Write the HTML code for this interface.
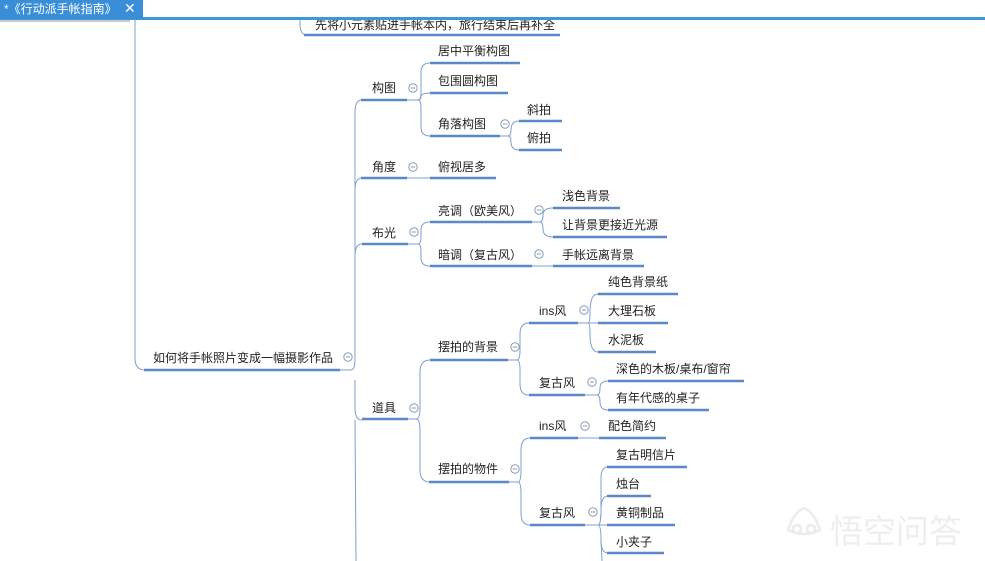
<!DOCTYPE html>
<html><head><meta charset="utf-8"><style>
html,body{margin:0;padding:0;background:#fff;width:985px;height:561px;overflow:hidden}
svg{display:block}
text{font-family:"Liberation Sans","Noto Sans CJK SC",sans-serif;font-size:12px;fill:#222}
.u{stroke:#5b88c6;stroke-width:2.5;fill:none}
.c{stroke:#7d9fd0;stroke-width:1;fill:none}
.ic circle{fill:#fff;stroke:#8a9bb5;stroke-width:1}
</style></head><body>
<svg width="985" height="561" viewBox="0 0 985 561" xmlns="http://www.w3.org/2000/svg">
<defs>
<g id="ic" class="ic"><circle cx="0" cy="0" r="4.2"/><line x1="-2.2" y1="0" x2="2.2" y2="0" stroke="#8a9bb5" stroke-width="1"/></g>
</defs>
<text x="315" y="29">先将小元素贴进手帐本内，旅行结束后再补全</text>
<path class="c" d="M300 18 L300 26 Q301 35 307 35"/>
<line class="u" x1="304" y1="35" x2="560" y2="35"/>
<path class="c" d="M135 18 L135 358 Q135 370 145 370"/>
<text x="153" y="362">如何将手帐照片变成一幅摄影作品</text>
<line class="u" x1="144" y1="370" x2="340" y2="370"/>
<use href="#ic" x="348" y="357"/>
<path class="c" d="M340 370 L350 370 C355 370 355 365 355 355 L355 112 Q355 100 362 100"/>
<path class="c" d="M355 190 Q355 178 362 178"/>
<path class="c" d="M355 256 Q355 244 362 244"/>
<path class="c" d="M355 380 L355 408 Q355 420 362 420"/>
<path class="c" d="M355 420 L356 561"/>
<text x="372" y="92">构图</text><line class="u" x1="361" y1="100" x2="407" y2="100"/><use href="#ic" x="413" y="88"/>
<path class="c" d="M407 100 L418 100 C421 100 421 96 421 90 L421 72 Q421 63 430 63"/>
<path class="c" d="M418 100 Q421 100 421 96 L421 97 Q421 93 430 93"/>
<path class="c" d="M418 100 Q421 100 421 108 L421 127 Q421 136 430 136"/>
<text x="438" y="55">居中平衡构图</text><line class="u" x1="430" y1="63" x2="520" y2="63"/>
<text x="438" y="85">包围圆构图</text><line class="u" x1="430" y1="93" x2="508" y2="93"/>
<text x="438" y="128">角落构图</text><line class="u" x1="430" y1="136" x2="500" y2="136"/><use href="#ic" x="505" y="124"/>
<path class="c" d="M500 136 L508 136 Q511 136 511 130 Q511 121 519 121"/>
<path class="c" d="M508 136 Q511 136 511 142 Q511 150 519 150"/>
<text x="527" y="114">斜拍</text><line class="u" x1="519" y1="121" x2="562" y2="121"/>
<text x="527" y="142">俯拍</text><line class="u" x1="519" y1="150" x2="562" y2="150"/>
<text x="372" y="171">角度</text><line class="u" x1="361" y1="178" x2="407" y2="178"/><use href="#ic" x="413" y="167"/>
<line class="c" x1="407" y1="178" x2="430" y2="178"/>
<text x="438" y="171">俯视居多</text><line class="u" x1="430" y1="178" x2="496" y2="178"/>
<text x="372" y="237">布光</text><line class="u" x1="362" y1="244" x2="408" y2="244"/><use href="#ic" x="414" y="232"/>
<path class="c" d="M408 244 L418 244 Q421 244 421 236 L421 230 Q421 222 430 222"/>
<path class="c" d="M418 244 Q421 244 421 252 L421 258 Q421 266 430 266"/>
<text x="438" y="215">亮调（欧美风）</text><line class="u" x1="430" y1="222" x2="532" y2="222"/><use href="#ic" x="539" y="210"/>
<path class="c" d="M532 222 L540 222 Q543 222 543 215 Q543 208 553 208"/>
<path class="c" d="M540 222 Q543 222 543 229 Q543 237 553 237"/>
<text x="562" y="200">浅色背景</text><line class="u" x1="553" y1="208" x2="620" y2="208"/>
<text x="562" y="229">让背景更接近光源</text><line class="u" x1="553" y1="237" x2="667" y2="237"/>
<text x="438" y="259">暗调（复古风）</text><line class="u" x1="430" y1="266" x2="532" y2="266"/><use href="#ic" x="539" y="254"/>
<line class="c" x1="532" y1="266" x2="553" y2="266"/>
<text x="562" y="259">手帐远离背景</text><line class="u" x1="553" y1="266" x2="644" y2="266"/>
<text x="372" y="412">道具</text><line class="u" x1="362" y1="419" x2="408" y2="419"/><use href="#ic" x="414" y="408"/>
<path class="c" d="M408 419 L416 419 Q420 419 420 408 L420 372 Q420 360 430 360"/>
<path class="c" d="M416 419 Q420 419 420 430 L420 470 Q420 482 430 482"/>
<text x="438" y="351">摆拍的背景</text><line class="u" x1="430" y1="360" x2="508" y2="360"/><use href="#ic" x="515" y="347"/>
<path class="c" d="M508 360 L517 360 Q520 360 520 350 L520 334 Q520 323 529 323"/>
<path class="c" d="M517 360 Q520 360 520 370 L520 384 Q520 395 529 395"/>
<text x="539" y="315">ins风</text><line class="u" x1="529" y1="323" x2="578" y2="323"/><use href="#ic" x="584" y="310"/>
<path class="c" d="M578 323 L588 323 Q590 323 590 312 Q590 294 598 294"/>
<line class="c" x1="588" y1="323" x2="598" y2="323"/>
<path class="c" d="M588 323 Q590 323 590 334 Q590 352 598 352"/>
<text x="608" y="286">纯色背景纸</text><line class="u" x1="598" y1="294" x2="678" y2="294"/>
<text x="608" y="315">大理石板</text><line class="u" x1="598" y1="323" x2="668" y2="323"/>
<text x="608" y="344">水泥板</text><line class="u" x1="598" y1="352" x2="656" y2="352"/>
<text x="539" y="387">复古风</text><line class="u" x1="529" y1="395" x2="585" y2="395"/><use href="#ic" x="592" y="382"/>
<path class="c" d="M585 395 L597 395 Q600 395 600 388 Q600 381 608 381"/>
<path class="c" d="M597 395 Q600 395 600 402 Q600 410 608 410"/>
<text x="616" y="373">深色的木板/桌布/窗帘</text><line class="u" x1="608" y1="381" x2="744" y2="381"/>
<text x="616" y="402">有年代感的桌子</text><line class="u" x1="608" y1="410" x2="709" y2="410"/>
<text x="438" y="473">摆拍的物件</text><line class="u" x1="429" y1="482" x2="509" y2="482"/><use href="#ic" x="515" y="469"/>
<path class="c" d="M509 482 L518 482 Q521 482 521 470 L521 450 Q521 438 530 438"/>
<path class="c" d="M518 482 Q521 482 521 494 L521 513 Q521 525 530 525"/>
<text x="539" y="430">ins风</text><line class="u" x1="530" y1="438" x2="578" y2="438"/><use href="#ic" x="585" y="426"/>
<line class="c" x1="578" y1="438" x2="599" y2="438"/>
<text x="608" y="430">配色简约</text><line class="u" x1="599" y1="438" x2="666" y2="438"/>
<text x="539" y="517">复古风</text><line class="u" x1="530" y1="525" x2="585" y2="525"/><use href="#ic" x="593" y="512"/>
<path class="c" d="M585 525 L598 525 Q601 525 601 510 L601 478 Q601 467 608 467"/>
<path class="c" d="M598 525 Q601 525 601 510 Q601 496 608 496"/>
<line class="c" x1="598" y1="525" x2="608" y2="525"/>
<path class="c" d="M598 525 Q601 525 601 540 Q601 553 608 553"/>
<path class="c" d="M601 540 L602 561"/>
<text x="616" y="459">复古明信片</text><line class="u" x1="607" y1="467" x2="687" y2="467"/>
<text x="616" y="488">烛台</text><line class="u" x1="607" y1="496" x2="651" y2="496"/>
<text x="616" y="517">黄铜制品</text><line class="u" x1="607" y1="525" x2="675" y2="525"/>
<text x="616" y="546">小夹子</text><line class="u" x1="607" y1="553" x2="664" y2="553"/>
<g fill="none" stroke="#ececec" stroke-width="2.5"><path d="M788 530 q6 -18 16 -22 q10 4 16 22 q-16 8 -32 0z"/><circle cx="797" cy="529" r="4"/><circle cx="811" cy="529" r="4"/></g>
<text x="830" y="543" style="font-size:33px;fill:#eeeeee">悟空问答</text>
<rect x="0" y="0" width="985" height="18" fill="#fff"/>
<rect x="0" y="17" width="985" height="3" fill="#3c98d6"/>
<rect x="0" y="0" width="143" height="19" fill="#3a8ed8"/>
<text x="4" y="13" style="fill:#fff;font-size:12px">*《行动派手帐指南》</text>
<text x="124" y="13" style="fill:#fff;font-size:14px">✕</text>
<rect x="0" y="20" width="130" height="2" fill="#c9c9c9"/>
</svg>
</body></html>
